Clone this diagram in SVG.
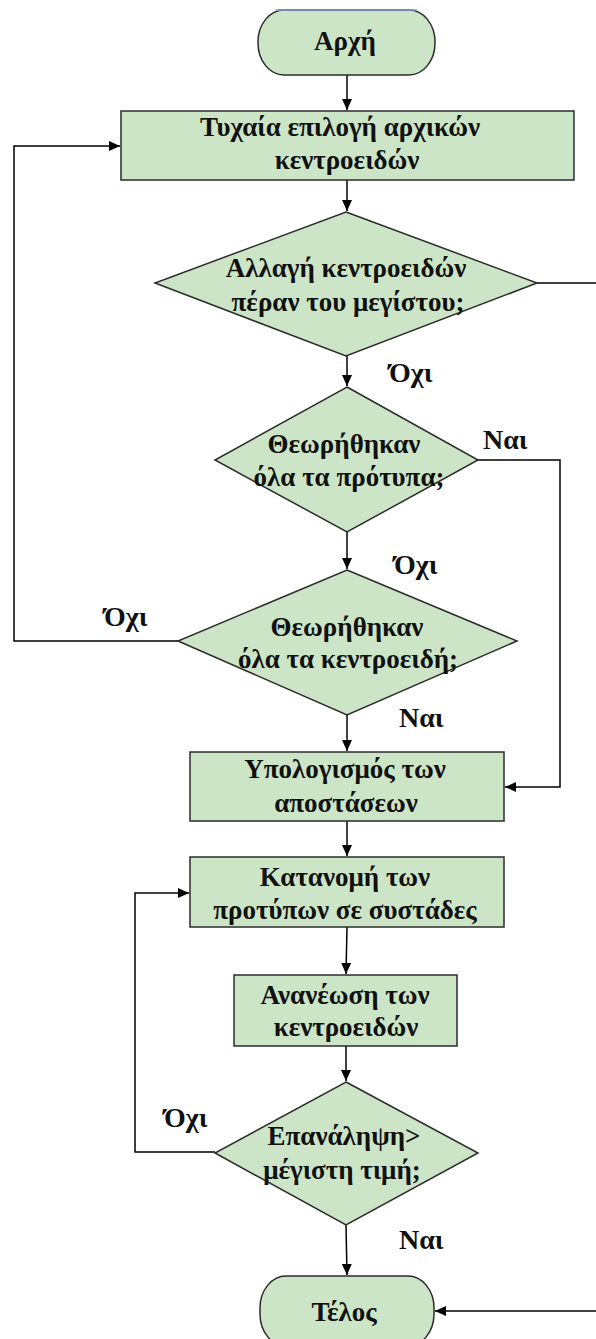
<svg xmlns="http://www.w3.org/2000/svg" width="596" height="1339" viewBox="0 0 596 1339">
<style>
.s{fill:#cde5c7;stroke:#2b2b2b;stroke-width:1.5}
.t{font-family:"Liberation Serif","Times New Roman",serif;font-weight:bold;font-size:27px;fill:#111;text-anchor:middle}
.l{font-family:"Liberation Serif","Times New Roman",serif;font-weight:bold;font-size:28px;fill:#111}
.c{fill:none;stroke:#000;stroke-width:1.5}
</style>
<defs>
<marker id="a" markerUnits="userSpaceOnUse" markerWidth="12" markerHeight="10" refX="11" refY="5" orient="auto">
<path d="M0,0 L11,5 L0,10 Z" fill="#000"/>
</marker>
</defs>
<rect width="596" height="1339" fill="#fff"/>
<g id="connectors">
<path class="c" d="M347,75 V110" marker-end="url(#a)"/>
<path class="c" d="M347,180 V211" marker-end="url(#a)"/>
<path class="c" d="M347,356 V386" marker-end="url(#a)"/>
<path class="c" d="M347,532 V569" marker-end="url(#a)"/>
<path class="c" d="M347,715 V751" marker-end="url(#a)"/>
<path class="c" d="M347,821 V856" marker-end="url(#a)"/>
<path class="c" d="M347,927 L346,974" marker-end="url(#a)"/>
<path class="c" d="M346,1046 V1081" marker-end="url(#a)"/>
<path class="c" d="M346,1225 L347,1275" marker-end="url(#a)"/>
<path class="c" d="M537,283 H600"/>
<path class="c" d="M600,1311 H435" marker-end="url(#a)"/>
<path class="c" d="M478,460 H560 V787 H505" marker-end="url(#a)"/>
<path class="c" d="M178,641 H14 V146 H120" marker-end="url(#a)"/>
<path class="c" d="M215,1152 H135 V893 H189" marker-end="url(#a)"/>
</g>
<g id="start">
<rect class="s" x="258" y="10" width="177" height="65" rx="26" ry="32"/>
<line x1="276" y1="10" x2="417" y2="10" stroke="#7b9fc9" stroke-width="1.5"/>
<text class="t" x="345" y="50">Αρχή</text>
</g>
<g id="init">
<rect class="s" x="121" y="111" width="453" height="69"/>
<text class="t" x="340" y="136">Τυχαία επιλογή αρχικών</text>
<text class="t" x="347" y="169">κεντροειδών</text>
</g>
<g id="dec1">
<polygon class="s" points="346,212 537,283 346,356 155,283"/>
<text class="t" x="346" y="277">Αλλαγή κεντροειδών</text>
<text class="t" x="348" y="311">πέραν του μεγίστου;</text>
</g>
<g id="dec2">
<polygon class="s" points="347,387 478,460 347,532 215,460"/>
<text class="t" x="344" y="453">Θεωρήθηκαν</text>
<text class="t" x="349" y="486">όλα τα πρότυπα;</text>
</g>
<g id="dec3">
<polygon class="s" points="347,570 517,641 347,715 178,641"/>
<text class="t" x="347" y="636">Θεωρήθηκαν</text>
<text class="t" x="348" y="668">όλα τα κεντροειδή;</text>
</g>
<g id="calc">
<rect class="s" x="190" y="752" width="314" height="69"/>
<text class="t" x="345" y="778">Υπολογισμός των</text>
<text class="t" x="346" y="812">αποστάσεων</text>
</g>
<g id="assign">
<rect class="s" x="190" y="857" width="314" height="70"/>
<text class="t" x="345" y="886">Κατανομή των</text>
<text class="t" x="345" y="919">προτύπων σε συστάδες</text>
</g>
<g id="update">
<rect class="s" x="234" y="975" width="223" height="71"/>
<text class="t" x="345" y="1004">Ανανέωση των</text>
<text class="t" x="346" y="1036">κεντροειδών</text>
</g>
<g id="dec4">
<polygon class="s" points="346,1082 478,1153 346,1225 215,1153"/>
<text class="t" x="344" y="1145">Επανάληψη&gt;</text>
<text class="t" x="342" y="1179">μέγιστη τιμή;</text>
</g>
<g id="end">
<rect class="s" x="260" y="1276" width="174" height="70" rx="26" ry="32"/>
<text class="t" x="344" y="1321">Τέλος</text>
</g>
<g id="labels">
<text class="l" x="389" y="382">Όχι</text>
<text class="l" x="483" y="449">Ναι</text>
<text class="l" x="394" y="574">Όχι</text>
<text class="l" x="104" y="626">Όχι</text>
<text class="l" x="399" y="727">Ναι</text>
<text class="l" x="164" y="1127">Όχι</text>
<text class="l" x="399" y="1249">Ναι</text>
</g>
</svg>
